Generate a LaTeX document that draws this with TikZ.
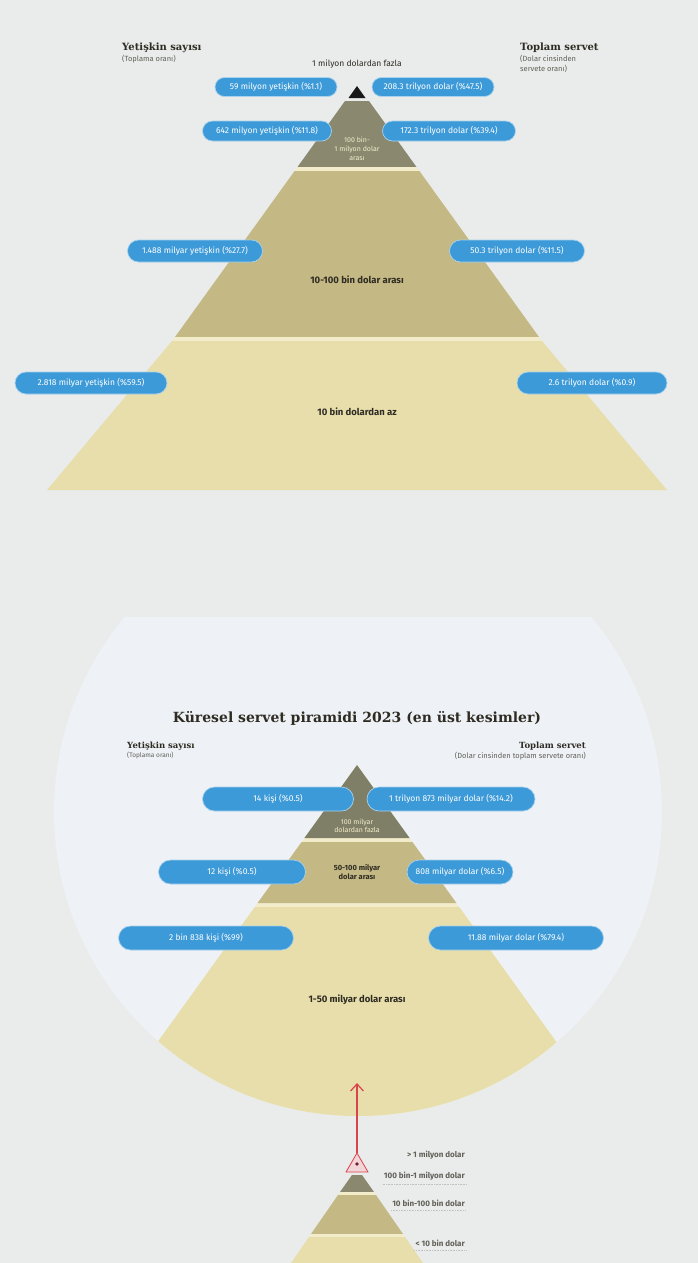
\documentclass[tikz,border=0pt]{standalone}
\usepackage{fontspec}
\setmainfont{Fira Sans}
\newfontfamily\slabfont{DejaVu Serif}
\usetikzlibrary{arrows.meta}
\definecolor{cbg}{HTML}{E9ECEA}
\definecolor{cdisc}{HTML}{EEF2F6}
\definecolor{cdark}{HTML}{8A8970}
\definecolor{cmid}{HTML}{C4B884}
\definecolor{cpale}{HTML}{E7DEAC}
\definecolor{ccream}{HTML}{F3ECCB}
\definecolor{cpill}{HTML}{3D9AD8}
\definecolor{cred}{HTML}{D9434C}
\definecolor{cpink}{HTML}{F2D5D8}
\definecolor{cink}{HTML}{2E2B22}

\begin{document}
\begin{tikzpicture}[x=1pt,y=-1pt,
  pill/.style={fill=cpill,draw=cpill!45!white,line width=0.7pt,text=white,font=\fontsize{8.5}{10}\selectfont,inner sep=0pt},
  head/.style={font=\slabfont\bfseries\fontsize{10}{12}\selectfont,text=cink,inner sep=0pt},
  sub/.style={font=\fontsize{7.5}{9.5}\selectfont,text=cink!75,inner sep=0pt},
  tier/.style={font=\bfseries\fontsize{9.5}{11}\selectfont,text=cink,align=center,inner sep=0pt},
  tierlight/.style={font=\fontsize{7}{9}\selectfont,text=ccream,align=center,inner sep=0pt},
  minilbl/.style={font=\bfseries\fontsize{8}{9}\selectfont,text=cink!75,anchor=east,inner sep=1pt},
  dotline/.style={densely dotted,cink!30,line width=0.6pt}]
\useasboundingbox (0,0) rectangle (698,1263);
\fill[cbg] (0,0) rectangle (698,1263);

\fill[black!90] (357,86) -- (365.5,98) -- (348.5,98) -- cycle;
\fill[cdark] (345,101) -- (369,101) -- (416.5,167) -- (297.5,167) -- cycle;
\fill[ccream] (297.5,167) -- (416.5,167) -- (419.4,171) -- (294.6,171) -- cycle;
\fill[cmid] (294.6,171) -- (419.4,171) -- (539,337) -- (175,337) -- cycle;
\fill[ccream] (175,337) -- (539,337) -- (542,341) -- (172,341) -- cycle;
\fill[cpale] (172,341) -- (542,341) -- (667,490) -- (47,490) -- cycle;
\node[head,anchor=west] (adulthead) at (122,48) {Yetişkin sayısı};
\node[sub,anchor=north west] (adultsub) at (122,55) {(Toplama oranı)};
\node[head,anchor=west] (wealthhead) at (520,48) {Toplam servet};
\node[sub,anchor=north west,align=left] (wealthsub) at (520,55) {(Dolar cinsinden\\servete oranı)};
\node[sub,text=cink,font=\fontsize{8.5}{10}\selectfont] (topcap) at (357,64) {1 milyon dolardan fazla};
\node[tierlight] (band2lbl) at (357,149) {100 bin-\\1 milyon dolar\\arası};
\node[tier] (band3lbl) at (357,280) {10-100 bin dolar arası};
\node[tier] (band4lbl) at (357,412) {10 bin dolardan az};

\begin{scope}
  \clip (0,617) rectangle (698,1263);
  \fill[cdisc] (358,812) circle[radius=304pt];
\end{scope}
\begin{scope}
  \clip (358,812) circle[radius=304pt];
  \fill[ccream] (357,765) -- (706,1250) -- (8,1250) -- cycle;
  \fill[cdark!92!black] (357,765) -- (409.6,838) -- (304.4,838) -- cycle;
  \fill[cmid] (301.6,842) -- (412.4,842) -- (456.4,903) -- (257.6,903) -- cycle;
  \fill[cpale] (254.8,907) -- (459.2,907) -- (706,1250) -- (8,1250) -- cycle;
\end{scope}
\node[head,font=\slabfont\bfseries\fontsize{14}{16}\selectfont] (title) at (357,718) {Küresel servet piramidi 2023 (en üst kesimler)};
\node[head,font=\slabfont\bfseries\fontsize{8.5}{10}\selectfont,anchor=west] (adulthead2) at (127,746) {Yetişkin sayısı};
\node[sub,font=\fontsize{6.5}{8}\selectfont,anchor=north west] (adultsub2) at (127,752) {(Toplama oranı)};
\node[head,font=\slabfont\bfseries\fontsize{8.5}{10}\selectfont,anchor=east] (wealthhead2) at (586,746) {Toplam servet};
\node[sub,font=\fontsize{7.5}{8}\selectfont,anchor=north east] (wealthsub2) at (586,752) {(Dolar cinsinden toplam servete oranı)};
\node[tierlight,font=\fontsize{7}{8.5}\selectfont] (tier1lbl) at (357,826) {100 milyar\\dolardan fazla};
\node[tier,font=\bfseries\fontsize{7.5}{8.5}\selectfont] (tier2lbl) at (357,872) {50-100 milyar\\dolar arası};
\node[tier] (tier3lbl) at (357,1000) {1-50 milyar dolar arası};

\foreach \nm/\cx/\cy/\pw/\ph/\txt in {
  a1/276/87/122/19/{59 milyon yetişkin (\%1.1)},
  w1/433/87/122/19/{208.3 trilyon dolar (\%47.5)},
  a2/267/131/129/20/{642 milyon yetişkin (\%11.8)},
  w2/449/131/133/20/{172.3 trilyon dolar (\%39.4)},
  a3/195/251/135/22/{1.488 milyar yetişkin (\%27.7)},
  w3/517/251/135/22/{50.3 trilyon dolar (\%11.5)},
  a4/91/383/152/22/{2.818 milyar yetişkin (\%59.5)},
  w4/592/383/150/22/{2.6 trilyon dolar (\%0.9)},
  b1/278/799/151/24/{14 kişi (\%0.5)},
  v1/451/799/168/24/{1 trilyon 873 milyar dolar (\%14.2)},
  b2/232/872/147/24/{12 kişi (\%0.5)},
  v2/460/872/106/24/{808 milyar dolar (\%6.5)},
  b3/206/938/175/24/{2 bin 838 kişi (\%99)},
  v3/516/938/175/24/{11.88 milyar dolar (\%79.4)}}
  \node[pill,minimum width=\pw*1pt,minimum height=\ph*1pt,rounded corners=\ph*0.5pt] (\nm) at (\cx,\cy) {\txt};

\fill[cdark] (352,1175) -- (362,1175) -- (374,1192) -- (340,1192) -- cycle;
\fill[ccream] (340,1192) -- (374,1192) -- (376,1195) -- (338,1195) -- cycle;
\fill[cmid] (338,1195) -- (376,1195) -- (403,1234) -- (311,1234) -- cycle;
\fill[ccream] (311,1234) -- (403,1234) -- (405,1237) -- (309,1237) -- cycle;
\fill[cpale] (309,1237) -- (405,1237) -- (423,1263) -- (291,1263) -- cycle;
\coordinate (sapex) at (357,1153);
\coordinate (arrowtip) at (357,1083);
\draw[cred,line width=0.8pt,fill=cpink,line join=round] (sapex) -- (368,1172) -- (346,1172) -- cycle;
\fill[cred!50!black] (357,1164) circle[radius=1.8pt];
\draw[cred,line width=1.2pt,-{Straight Barb[length=2.5mm,width=4.5mm]}] (sapex) -- (arrowtip);
\node[minilbl] (mini1) at (466,1155) {> 1 milyon dolar};
\node[minilbl] (mini2) at (466,1176) {100 bin-1 milyon dolar};
\node[minilbl] (mini3) at (466,1203) {10 bin-100 bin dolar};
\node[minilbl] (mini4) at (466,1243) {< 10 bin dolar};
\draw[dotline] ([yshift=-3pt]mini2.south west) -- ([yshift=-3pt]mini2.south east);
\draw[dotline] ([yshift=-3pt]mini3.south west) -- ([yshift=-3pt]mini3.south east);
\draw[dotline] ([yshift=-3pt]mini4.south west) -- ([yshift=-3pt]mini4.south east);
\end{tikzpicture}
\end{document}
